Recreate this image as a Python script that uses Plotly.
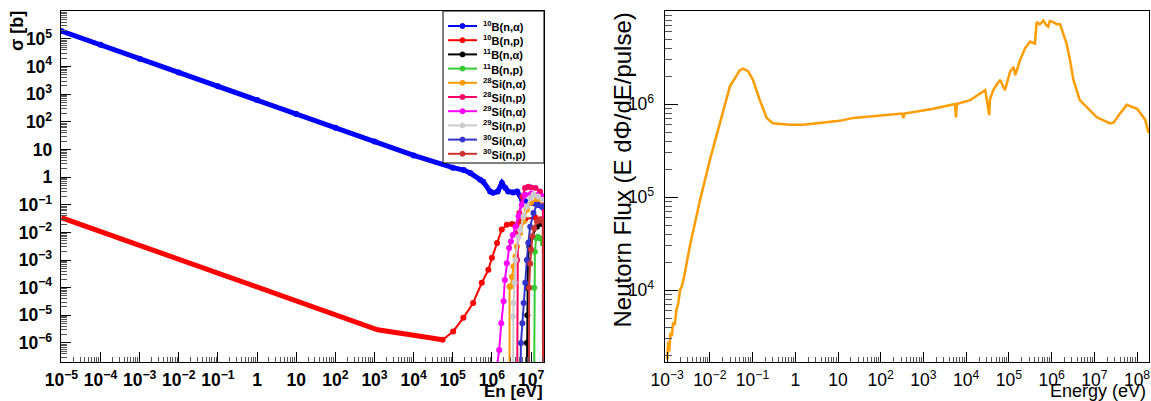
import plotly.graph_objects as go

# ---------------- data: cross sections (left) ----------------
labels = ["<sup>10</sup>B(n,α)", "<sup>10</sup>B(n,p)", "<sup>11</sup>B(n,α)", "<sup>11</sup>B(n,p)",
          "<sup>28</sup>Si(n,α)", "<sup>28</sup>Si(n,p)", "<sup>29</sup>Si(n,α)", "<sup>29</sup>Si(n,p)",
          "<sup>30</sup>Si(n,α)", "<sup>30</sup>Si(n,p)"]
colors = ["#0000ff", "#ff0000", "#000000", "#33cc33", "#ff9900", "#ff0066",
          "#ff00ff", "#cccccc", "#3333cc", "#cc3333"]

b10_na_E = [1e-5, 1e-4, 1e-3, 1e-2, 1e-1, 1, 10, 100, 1e3, 1e4, 1e5, 1.9e5, 2.8e5, 5e5, 6e5, 9e5,
            1.07e6, 1.4e6, 1.8e6, 2.2e6, 2.6e6, 3.5e6, 4.4e6, 5.9e6, 1e7, 1.5e7, 2e7]
b10_na_xs = [1.93e5, 6.1e4, 1.93e4, 6.1e3, 1.93e3, 610, 193, 61, 19.3, 6.1, 2.2, 1.8, 1.4, 0.8, 0.68, 0.3,
             0.27, 0.3, 0.61, 0.4, 0.3, 0.28, 0.3, 0.15, 0.12, 0.1, 0.08]

b10_np_E = [1e-5, 1e-4, 1e-3, 1e-2, 1e-1, 1, 10, 100, 1.2e3, 1e4, 5.5e4, 1.02e5, 1.86e5, 3.3e5, 5.5e5,
            8.1e5, 1e6, 1.35e6, 1.78e6, 2.4e6, 3.24e6, 5e6, 7e6, 1.26e7, 2e7]
b10_np_xs = [0.034, 1.07e-2, 3.4e-3, 1.07e-3, 3.4e-4, 1.07e-4, 3.4e-5, 1.07e-5, 3.0e-6, 1.9e-6, 1.3e-6,
             2.6e-6, 8.1e-6, 2.8e-5, 1.5e-4, 4.4e-4, 1.2e-3, 4.1e-3, 1.26e-2, 1.9e-2, 2.0e-2, 2.5e-2,
             3e-2, 3.5e-2, 3e-2]

b11_na_E = [7.6e6, 7.8e6, 8.0e6, 8.1e6, 8.3e6, 9e6, 1.05e7, 1.41e7, 1.9e7, 2.1e7]
b11_na_xs = [1e-9, 1e-6, 1e-5, 1e-4, 1e-3, 3e-3, 7e-3, 1.6e-2, 2e-2, 2.5e-2]

b11_np_E = [1.18e7, 1.2e7, 1.25e7, 1.35e7, 1.5e7, 1.7e7, 2e7]
b11_np_xs = [1e-9, 1e-4, 2e-3, 6.3e-3, 7e-3, 6e-3, 4e-3]

si28_na_E = [2.8e6, 2.82e6, 3.05e6, 3.24e6, 3.55e6, 3.98e6, 4.37e6, 5.25e6, 6.45e6, 7.8e6, 1e7, 1.4e7, 2e7]
si28_na_xs = [1e-9, 1.1e-4, 1.1e-4, 2.5e-4, 5.8e-4, 1.35e-3, 3.1e-3, 9.3e-3, 2.5e-2, 6.6e-2, 0.12, 0.15, 0.13]

si28_np_E = [4.37e6, 4.4e6, 4.6e6, 5e6, 6e6, 7e6, 8.5e6, 1e7, 1.3e7, 1.7e7, 2e7, 2.03e7]
si28_np_xs = [1e-9, 1e-3, 1e-2, 0.05, 0.2, 0.4, 0.45, 0.42, 0.4, 0.3, 0.2, 1e-9]

si29_na_E = [1.3e6, 1.53e6, 1.73e6, 1.98e6, 2.14e6, 2.4e6, 2.75e6, 3.05e6, 3.4e6, 3.98e6, 4.8e6, 5.8e6,
             7.1e6, 1e7, 1.4e7, 2e7]
si29_na_xs = [1e-7, 5.6e-7, 5.1e-6, 3.2e-5, 1.9e-4, 7.7e-4, 2.7e-3, 4.7e-3, 8.1e-3, 1.6e-2, 3.8e-2, 0.1,
              0.23, 0.25, 0.22, 0.2]

si29_np_E = [3.4e6, 3.45e6, 3.55e6, 3.8e6, 3.98e6, 4.8e6, 5.25e6, 6.45e6, 7.8e6, 9.5e6, 1.15e7, 1.5e7, 2e7]
si29_np_xs = [1e-9, 9e-6, 2.8e-5, 1.5e-4, 1e-3, 7e-3, 1.2e-2, 3.8e-2, 8.7e-2, 0.17, 0.23, 0.2, 0.15]

si30_na_E = [5.2e6, 5.5e6, 6.0e6, 6.45e6, 7.1e6, 7.8e6, 8.5e6, 9.5e6, 1.15e7, 1.41e7, 1.9e7]
si30_na_xs = [1e-9, 1e-6, 5.2e-6, 2.8e-5, 1.5e-4, 1e-3, 4.2e-3, 1.6e-2, 5e-2, 0.1, 0.087]

si30_np_E = [8.8e6, 8.9e6, 9.5e6, 1e7, 1.08e7, 1.2e7, 1.41e7, 1.7e7, 2e7, 2.02e7]
si30_np_xs = [1e-9, 1e-4, 7.4e-4, 2.4e-3, 7.2e-3, 1.4e-2, 2.5e-2, 3e-2, 2.5e-2, 1e-9]

# ---------------- data: neutron flux (right) ----------------
flux_E = [1.0e-3, 1.07e-3, 1.12e-3, 1.2e-3, 1.29e-3, 1.38e-3, 1.51e-3, 1.66e-3, 1.82e-3, 2.0e-3,
          2.24e-3, 2.51e-3, 3.39e-3, 4.47e-3, 5.9e-3, 1.0e-2, 1.7e-2, 2.95e-2, 5.0e-2, 6.0e-2,
          7.9e-2, 0.102, 0.148, 0.214, 0.30, 0.74, 1.53, 4.5, 11, 23,
          100, 316, 339, 363, 1700, 5500, 5750, 6030, 1.23e4, 2.0e4,
          2.8e4, 3.47e4, 3.6e4, 4.3e4, 6.2e4, 8.1e4, 1.07e5, 1.29e5, 1.41e5, 1.82e5,
          2.4e5, 3.16e5, 4.07e5, 4.47e5, 5.25e5, 6.46e5, 7.4e5, 8.3e5, 9.1e5, 1.1e6,
          1.32e6, 1.58e6, 1.86e6, 2.24e6, 2.7e6, 3.24e6, 4.57e6, 6.6e6, 1.15e7, 2.34e7,
          2.8e7, 4.0e7, 5.75e7, 1.0e8, 1.55e8, 1.86e8]
flux = [1.8e3, 2.8e3, 2.2e3, 3.5e3, 3.2e3, 4.5e3, 4.2e3, 6.3e3, 7.1e3, 1.0e4,
        1.12e4, 1.41e4, 2.95e4, 5.2e4, 9.3e4, 2.5e5, 6.3e5, 1.55e6, 2.3e6, 2.4e6,
        2.24e6, 1.82e6, 1.1e6, 7.1e5, 6.2e5, 6.0e5, 6.0e5, 6.3e5, 6.6e5, 7.1e5,
        7.6e5, 7.9e5, 7.1e5, 7.9e5, 8.9e5, 1.0e6, 7.2e5, 1.0e6, 1.1e6, 1.26e6,
        1.41e6, 7.6e5, 1.12e6, 1.41e6, 1.82e6, 1.41e6, 2.24e6, 2.5e6, 2.04e6, 2.95e6,
        4.0e6, 4.7e6, 4.47e6, 7.6e6, 7.2e6, 7.9e6, 7.1e6, 6.8e6, 7.8e6, 7.6e6,
        7.2e6, 7.2e6, 5.75e6, 4.47e6, 2.95e6, 1.82e6, 1.1e6, 9.3e5, 7.2e5, 6.2e5,
        6.3e5, 7.9e5, 9.8e5, 8.9e5, 6.8e5, 4.9e5]

series_E = [b10_na_E, b10_np_E, b11_na_E, b11_np_E, si28_na_E, si28_np_E,
            si29_na_E, si29_np_E, si30_na_E, si30_np_E]
series_xs = [b10_na_xs, b10_np_xs, b11_na_xs, b11_np_xs, si28_na_xs, si28_np_xs,
             si29_na_xs, si29_np_xs, si30_na_xs, si30_np_xs]

# ---------------- layout geometry ----------------
W, H = 1151, 401
ML, MR, MT, MB = 61, 2, 11, 39
PW, PH = W - ML - MR, H - MT - MB


def px(x):
    return (x - ML) / PW


def py(y):
    return (H - MB - y) / PH


FONT = "Liberation Sans"

fig = go.Figure()

for i, (lab, E, xs, c) in enumerate(zip(labels, series_E, series_xs, colors)):
    if i == 0:
        fig.add_trace(go.Scatter(x=E, y=xs, mode="lines+markers", line=dict(color=c, width=5),
                                 marker=dict(color=c, size=6), showlegend=False, name=lab))
    elif i == 1:
        lowE = [e for e in E if e <= 5.5e4]
        fig.add_trace(go.Scatter(x=lowE, y=xs[:len(lowE)], mode="lines",
                                 line=dict(color=c, width=5), showlegend=False, name=lab))
        fig.add_trace(go.Scatter(x=E[len(lowE) - 1:], y=xs[len(lowE) - 1:], mode="lines+markers",
                                 line=dict(color=c, width=2), marker=dict(color=c, size=6),
                                 showlegend=False, name=lab))
    else:
        fig.add_trace(go.Scatter(x=E, y=xs, mode="lines+markers", line=dict(color=c, width=2),
                                 marker=dict(color=c, size=6), showlegend=False, name=lab))

fig.add_trace(go.Scatter(x=flux_E, y=flux, mode="lines", line=dict(color="#ff9c00", width=2.5),
                         xaxis="x2", yaxis="y2", showlegend=False, name="flux"))

bold_tick = dict(family=FONT, size=14, color="black", weight="bold")
reg_tick = dict(family=FONT, size=14, color="black")

common = dict(type="log", dtick=1, exponentformat="power", ticks="inside", tickcolor="black",
              showline=True, linecolor="black", linewidth=1, mirror=True, showgrid=False,
              zeroline=False)

fig.update_layout(
    width=W, height=H, margin=dict(l=ML, r=MR, t=MT, b=MB),
    paper_bgcolor="white", plot_bgcolor="white", showlegend=False,
    xaxis=dict(common, domain=[0, px(544)], range=[-5.01, 7.33], ticklen=10, tickfont=bold_tick,
               ticklabelstandoff=3,
               minor=dict(ticks="inside", ticklen=5, dtick="D1", tickcolor="#555555", showgrid=False)),
    yaxis=dict(common, range=[-6.69, 6.01], ticklen=10, tickfont=bold_tick, ticklabelstandoff=5,
               minor=dict(ticks="inside", ticklen=6, dtick="D1", tickcolor="#555555", showgrid=False)),
    xaxis2=dict(common, domain=[px(665), 1], range=[-3.05, 8.28], anchor="y2", ticklen=10,
                tickfont=reg_tick, ticklabelstandoff=3,
                minor=dict(ticks="inside", ticklen=5, dtick="D1", tickcolor="#555555", showgrid=False)),
    yaxis2=dict(common, anchor="x2", range=[3.228, 7.0], ticklen=13, tickfont=reg_tick,
                ticklabelstandoff=7,
                minor=dict(ticks="inside", ticklen=7, dtick="D1", tickcolor="#555555", showgrid=False)),
)

# ---------------- custom legend (ROOT TLegend style) ----------------
shapes = [dict(type="rect", xref="paper", yref="paper", x0=px(443), x1=px(544), y0=py(163), y1=py(11),
               line=dict(color="black", width=1), fillcolor="white", layer="above")]
annotations = []
row0, step = 26, 14.2
for i, (lab, c) in enumerate(zip(labels, colors)):
    yy = row0 + i * step
    shapes.append(dict(type="line", xref="paper", yref="paper", x0=px(448), x1=px(477),
                       y0=py(yy), y1=py(yy), line=dict(color=c, width=2), layer="above"))
    shapes.append(dict(type="circle", xref="paper", yref="paper", x0=px(460), x1=px(465),
                       y0=py(yy + 2.5), y1=py(yy - 2.5), line=dict(color=c, width=1), fillcolor=c,
                       layer="above"))
    annotations.append(dict(text=lab, xref="paper", yref="paper", x=px(481), y=py(yy), xanchor="left",
                            yanchor="middle", showarrow=False,
                            font=dict(family=FONT, size=11, color="black", weight="bold")))

annotations += [
    dict(text="σ [b]", xref="paper", yref="paper", x=px(17), y=py(9), xanchor="center", yanchor="top",
         textangle=-90, showarrow=False, font=dict(family=FONT, size=18, color="black", weight="bold")),
    dict(text="En [eV]", xref="paper", yref="paper", x=px(545), y=py(391), xanchor="right",
         yanchor="middle", showarrow=False, font=dict(family=FONT, size=17, color="black", weight="bold")),
    dict(text="Neutorn Flux (E dΦ/dE/pulse)", xref="paper", yref="paper", x=px(622), y=py(11),
         xanchor="center", yanchor="top", textangle=-90, showarrow=False,
         font=dict(family=FONT, size=24, color="black")),
    dict(text="Energy (eV)", xref="paper", yref="paper", x=px(1148), y=py(391), xanchor="right",
         yanchor="middle", showarrow=False, font=dict(family=FONT, size=18, color="black")),
]

fig.update_layout(shapes=shapes, annotations=annotations)
fig.write_html("out.html", config={"displayModeBar": False},
               post_script="document.body.style.margin='0';")
